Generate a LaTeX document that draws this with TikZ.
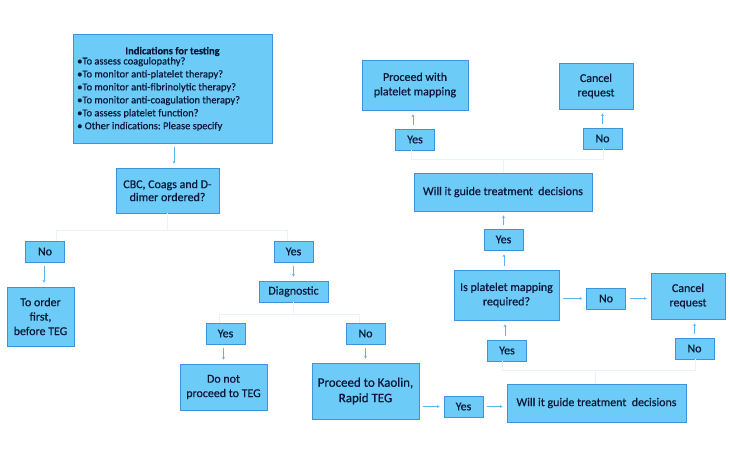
\documentclass[tikz,border=0pt]{standalone}
\usepackage{fontspec}
\setmainfont{Carlito}[FakeBold=0.6]
\usetikzlibrary{arrows.meta}
\frenchspacing
\definecolor{boxfill}{HTML}{6DCBF8}
\definecolor{boxline}{HTML}{3F92DE}
\definecolor{txt}{HTML}{0B1838}
\definecolor{arrc}{HTML}{5DB4EE}
\definecolor{faint}{HTML}{EAF3FB}
\tikzset{
  bx/.style={draw=boxline, fill=boxfill, line width=0.9pt, text=txt, align=center, inner sep=1pt,
    font=\fontsize{12}{14.5}\selectfont},
  small/.style={bx, minimum width=39bp, minimum height=21bp},
  arr/.style={draw=arrc, line width=0.9pt, -{Stealth[length=2.5pt,width=3pt]}, shorten <=4bp, shorten >=4bp},
  faintline/.style={draw=faint, line width=0.9pt}
}
\begin{document}
\begin{tikzpicture}[x=1bp,y=-1bp]
\useasboundingbox (0,0) rectangle (730,458);
% top-left
\node[bx, minimum width=199bp, minimum height=109bp] (ind) at (172.5,88.5) {};
\node[text=txt, font=\fontsize{10.5}{12}\selectfont\bfseries] (indt) at (172.5,51.5) {Indications for testing};
\node[text=txt, anchor=north west, align=left, inner sep=0pt, font=\fontsize{10.5}{13}\selectfont] (indl) at (77,57)
 {•To assess coagulopathy?\\
  •To monitor anti-platelet therapy?\\
  •To monitor anti-fibrinolytic therapy?\\
  •To monitor anti-coagulation therapy?\\
  •To assess platelet function?\\
  • Other indications: Please specify};
\node[bx, minimum width=103bp, minimum height=45bp, font=\fontsize{12}{13}\selectfont] (cbc) at (167.5,190.5) {CBC, Coags and D-\\dimer ordered?};
\node[small] (no1) at (45,251.5) {No};
\node[bx, minimum width=67bp, minimum height=59bp] (order) at (40.5,316.5) {To order\\first,\\before TEG};
\node[small] (yes1) at (293.5,251.5) {Yes};
\node[bx, minimum width=69bp, minimum height=21bp] (diag) at (293.5,291.5) {Diagnostic};
\node[small] (yes2) at (225.5,333.5) {Yes};
\node[bx, minimum width=87bp, minimum height=46bp] (dnp) at (223.5,387) {Do not\\proceed to TEG};
\node[small] (no2) at (365.5,333.5) {No};
\node[bx, minimum width=107bp, minimum height=56bp, font=\fontsize{13}{15.5}\selectfont] (kao) at (365.5,391) {Proceed to Kaolin,\\Rapid TEG};
\node[small] (yes3) at (463.5,406.5) {Yes};
\node[bx, minimum width=179bp, minimum height=38bp] (wig1) at (596.5,403) {Will it guide treatment~ decisions};
\node[small] (yes4) at (507,350.5) {Yes};
\node[small] (no4) at (694.5,348.5) {No};
\node[bx, minimum width=105bp, minimum height=50bp] (ipm) at (506.5,295) {Is platelet mapping\\required?};
\node[small] (no3) at (606,298.5) {No};
\node[bx, minimum width=74bp, minimum height=46bp] (can2) at (688,296) {Cancel\\request};
\node[small] (yes5) at (503.5,239.5) {Yes};
\node[bx, minimum width=178bp, minimum height=38bp] (wig2) at (503,192) {Will it guide treatment~ decisions};
\node[small] (yes6) at (415,139.5) {Yes};
\node[small] (no5) at (602.5,138.5) {No};
\node[bx, minimum width=106bp, minimum height=50bp] (pwm) at (415,85) {Proceed with\\platelet mapping};
\node[bx, minimum width=74bp, minimum height=46bp] (can1) at (596,86) {Cancel\\request};
% faint tree lines
\draw[faintline] (cbc.south) -- ++(0,17) coordinate (t1);
\draw[faintline] (no1.north) ++(11,0) |- (t1) -| ([xshift=-6bp]yes1.north);
\draw[faintline] (diag.south) -- ++(0,12) coordinate (t2);
\draw[faintline] ([xshift=-6bp]yes2.north) |- (t2) -| ([xshift=-6bp]no2.north);
\draw[faintline] ([xshift=-1bp]wig1.north) -- ++(0,-13) coordinate (t3);
\draw[faintline] ([xshift=-5bp]yes4.south) |- (t3) -| ([xshift=1bp]no4.south);
\draw[faintline] (wig2.north) -- ++(0,-13) coordinate (t4);
\draw[faintline] ([xshift=-4bp]yes6.south) |- (t4) -| ([xshift=1bp]no5.south);
% arrows
\draw[arr] ([xshift=1.5bp]ind.south) -- ([xshift=1.5bp]ind.south |- cbc.north);
\draw[arr] ([xshift=-1bp]no1.south) -- ([xshift=-1bp]no1.south |- order.north);
\draw[arr] (yes1.south) -- (yes1.south |- diag.north);
\draw[arr] ([xshift=-2bp]yes2.south) -- ([xshift=-2bp]yes2.south |- dnp.north);
\draw[arr] (no2.south) -- (no2.south |- kao.north);
\draw[arr] (kao.east |- yes3.west) -- (yes3.west);
\draw[arr] (yes3.east) -- (yes3.east -| wig1.west);
\draw[arr] ([xshift=-2bp]yes4.north) -- ([xshift=-2bp]yes4.north |- ipm.south);
\draw[arr] (ipm.east |- no3.west) -- (no3.west);
\draw[arr] (no3.east) -- (no3.east -| can2.west);
\draw[arr] (no4.north) -- (no4.north |- can2.south);
\draw[arr] ([xshift=-2.5bp]ipm.north) -- ([xshift=-2.5bp]ipm.north |- yes5.south);
\draw[arr] (yes5.north) -- (yes5.north |- wig2.south);
\draw[arr] ([xshift=-2bp]yes6.north) -- ([xshift=-2bp]yes6.north |- pwm.south);
\draw[arr] (no5.north) -- (no5.north |- can1.south);
\end{tikzpicture}
\end{document}
